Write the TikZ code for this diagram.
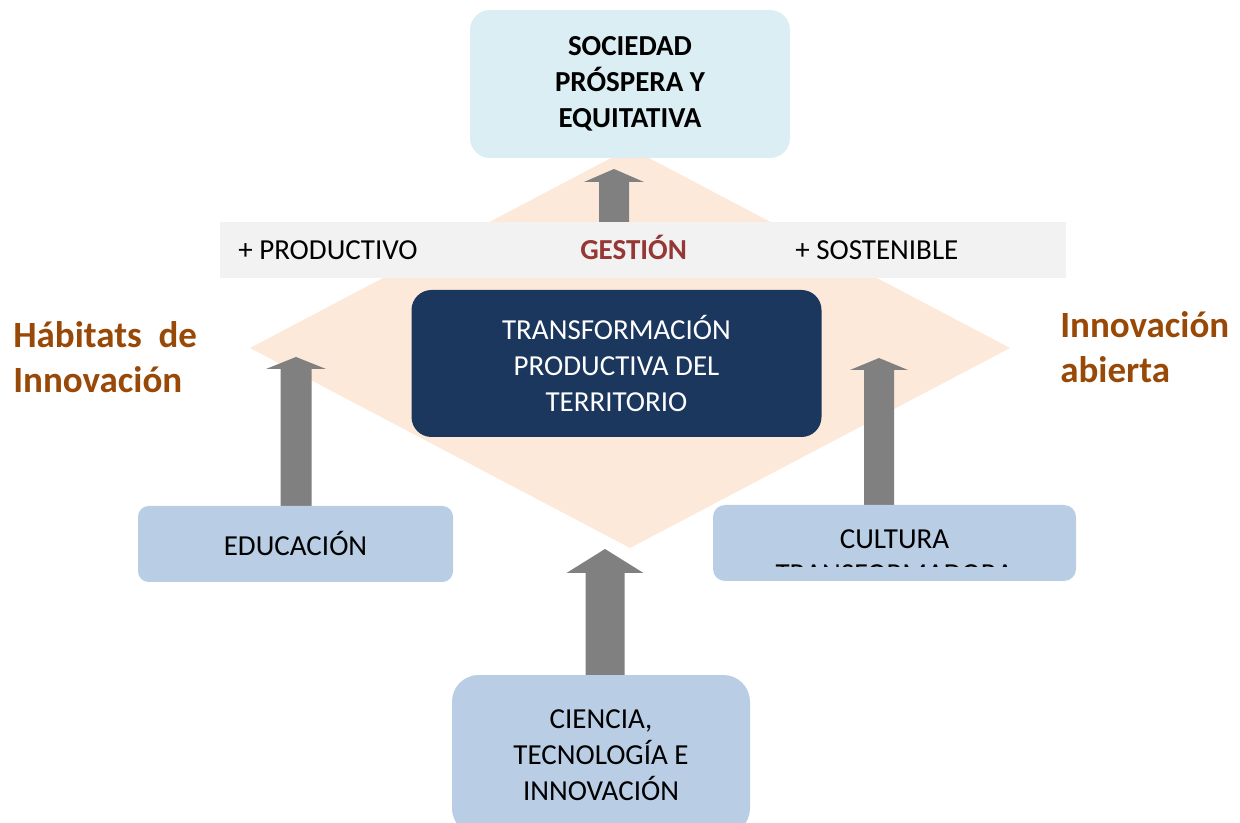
\documentclass[tikz,border=0pt]{standalone}
\usepackage{fontspec}
\setmainfont{Carlito}
\definecolor{peach}{HTML}{FDE9D9}
\definecolor{paleblue}{HTML}{DAEEF3}
\definecolor{darkblue}{HTML}{1B375E}
\definecolor{boxblue}{HTML}{B9CDE5}
\definecolor{bandgray}{HTML}{F2F2F2}
\definecolor{arrowgray}{HTML}{808080}
\definecolor{gestred}{HTML}{953735}
\definecolor{sideorange}{HTML}{984807}
\newcommand{\blkarrow}[6]{% cx, ybottom, ybase, ytip, shafthalf, headhalf
  \fill[arrowgray] ({#1-#5},#2) -- ({#1-#5},#3) -- ({#1-#6},#3) -- (#1,#4)
    -- ({#1+#6},#3) -- ({#1+#5},#3) -- ({#1+#5},#2) -- cycle;}
\begin{document}
\begin{tikzpicture}[x=0.75pt,y=-0.75pt,
  bigfont/.style={font=\fontsize{21.75pt}{27pt}\selectfont},
  topbox/.style={fill=paleblue, rounded corners=15pt, inner sep=0pt, align=center,
    font=\fontsize{21.75pt}{27pt}\selectfont\bfseries},
  darkbox/.style={fill=darkblue, rounded corners=15pt, inner sep=0pt, align=center,
    text=white, bigfont},
  lightbox/.style={fill=boxblue, inner sep=0pt, align=center, bigfont},
  sidelabel/.style={text=sideorange, align=left, inner sep=0pt,
    font=\fontsize{27.75pt}{33.75pt}\selectfont\bfseries},
  bandtext/.style={anchor=base west, inner sep=0pt, bigfont}]
\useasboundingbox (0,0) rectangle (1240,823);
\clip (0,0) rectangle (1240,823);
% diamond
\fill[peach] (630,148) -- (1010,348) -- (630,548) -- (250,348) -- cycle;
% top box
\node[topbox, minimum width=240pt, minimum height=111pt] (soc) at (630,84)
  {SOCIEDAD\\PRÓSPERA Y\\EQUITATIVA};
% top arrow
\blkarrow{614}{223}{182}{169}{15}{30}
% band
\node[fill=bandgray, inner sep=0pt, minimum width=634.5pt, minimum height=42pt] (band) at (643,250) {};
\node[bandtext] (prod) at (238,260) {+ PRODUCTIVO};
\node[bandtext, text=gestred, font=\fontsize{21.75pt}{27pt}\selectfont\bfseries] (gest) at (580,260) {GESTIÓN};
\node[bandtext] (sost) at (795,260) {+ SOSTENIBLE};
% central box
\node[darkbox, minimum width=307.5pt, minimum height=110.25pt] (trans) at (616.5,363.5)
  {TRANSFORMACIÓN\\PRODUCTIVA DEL\\TERRITORIO};
% side labels
\node[sidelabel, anchor=base west] (hab) at (13,393) {Hábitats~~de\\Innovación};
\node[sidelabel, anchor=base west] (abi) at (1060,383) {Innovación\\abierta};
% side arrows
\blkarrow{296}{507}{369}{357}{15.5}{30}
\blkarrow{879}{506}{370}{358}{15}{29}
% bottom arrow
\blkarrow{605}{676}{573}{549}{19.5}{38.5}
% boxes
\node[lightbox, rounded corners=8pt, minimum width=236.25pt, minimum height=57pt] (edu) at (295.5,544) {EDUCACIÓN};
\node[lightbox, rounded corners=9pt, minimum width=272.25pt, minimum height=57pt] (cult) at (894.5,543) {};
\node[bandtext, anchor=base] (cultt) at (894.5,549) {CULTURA};
\begin{scope}
  \clip (713,500) rectangle (1076,567);
  \node[bandtext, anchor=base] (cultt2) at (894.5,584) {TRANSFORMADORA};
\end{scope}
\node[lightbox, rounded corners=20pt, minimum width=223.5pt, minimum height=120pt] (cien) at (601,755)
  {CIENCIA,\\TECNOLOGÍA E\\INNOVACIÓN};
\end{tikzpicture}
\end{document}
